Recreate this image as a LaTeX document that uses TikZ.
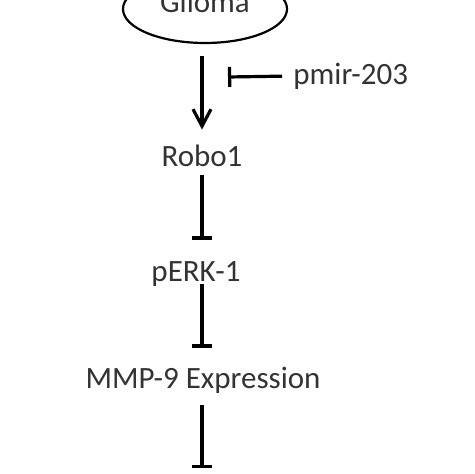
\documentclass[tikz,border=0pt]{standalone}
\usepackage{fontspec}
\setmainfont{Carlito}
\usetikzlibrary{arrows.meta,shapes.geometric}

\begin{document}
\begin{tikzpicture}[x=0.5pt,y=-0.5pt,
  font=\fontsize{15.5}{18}\selectfont,
  pathstage/.style={inner sep=0pt,text height=10pt,text depth=1pt,text=black!80},
  pathact/.style={-{Straight Barb[length=8.5pt,width=9pt]},line width=1.6pt},
  pathinh/.style={-{Bar[width=10pt]},line width=1.6pt}
]
  \useasboundingbox (0,0) rectangle (474,474);
  \clip (0,0) rectangle (474,474);

  % Tumour
  \node[ellipse,draw,line width=1.1pt,inner sep=0pt,minimum width=82pt,minimum height=34pt,
    text height=5pt,text depth=1pt,text=black!80] (glioma) at (205,9) {Glioma};

  % Cascade
  \node[pathstage,anchor=base] (robo) at (202,167) {Robo1};
  \node[pathstage,anchor=base] (perk) at (196,282) {pERK-1};
  \node[pathstage,anchor=base] (mmp) at (203,388) {MMP-9 Expression};
  \coordinate (tail) at (202,468);

  % microRNA
  \node[pathstage,anchor=base west] (pmir) at (293,85) {pmir-203};
  \coordinate (block) at (228,77);

  % Arrows
  \draw[pathact,shorten <=6pt,shorten >=8.5pt] (robo.north |- glioma.south) -- (robo.north);
  \draw[pathinh,shorten <=5.5pt] (pmir.west) -- (block);
  \draw[pathinh,shorten <=3pt,shorten >=11pt] (robo.south) -- (robo.south |- perk.north);
  \draw[pathinh,shorten >=10pt] (robo.south |- perk.south) -- (robo.south |- mmp.north);
  \draw[pathinh,shorten <=7.5pt] (robo.south |- mmp.south) -- (tail);
\end{tikzpicture}
\end{document}
